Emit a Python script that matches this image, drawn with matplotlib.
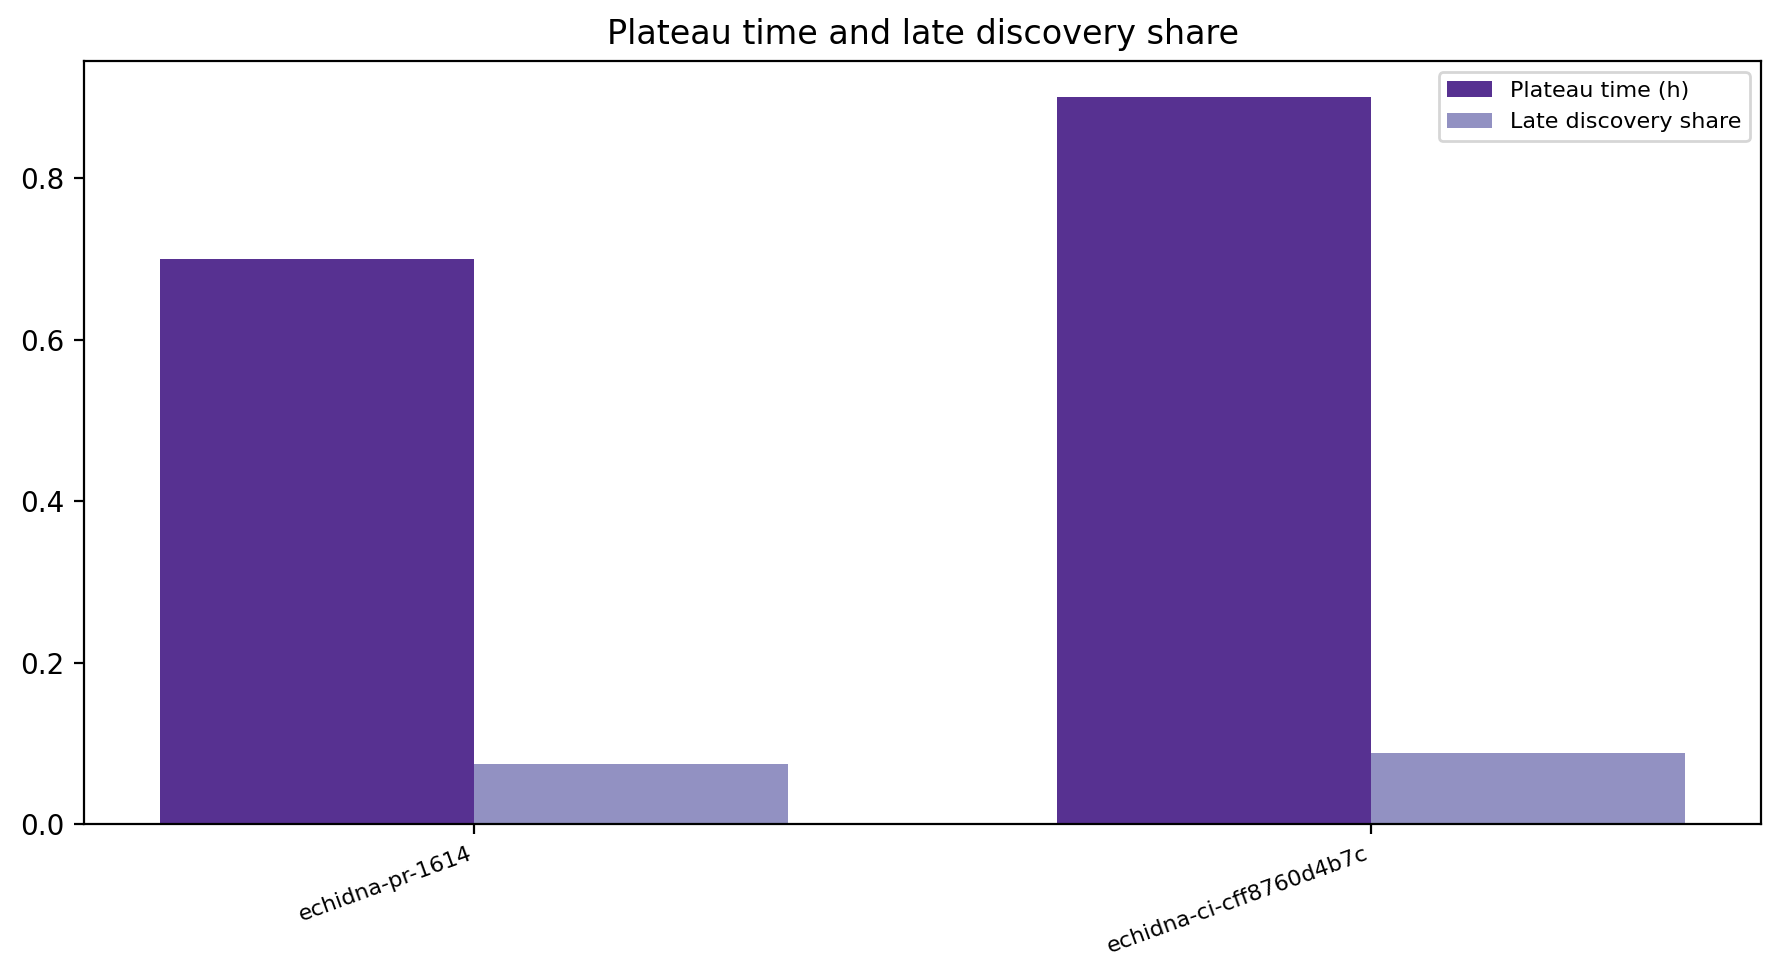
import matplotlib.pyplot as plt
import numpy as np

runs = ["echidna-pr-1614", "echidna-ci-cff8760d4b7c"]
plateau_time_h = [0.70, 0.90]
late_discovery_share = [0.074, 0.088]

fig, ax = plt.subplots(figsize=(8.905, 4.885), dpi=200)
x = np.arange(len(runs))
width = 0.35

ax.bar(x - width / 2, plateau_time_h, width, color="#573191", label="Plateau time (h)")
ax.bar(x + width / 2, late_discovery_share, width, color="#9291c2", label="Late discovery share")

ax.set_xticks(x)
ax.set_xticklabels(runs, rotation=20, ha="right", fontsize=8)
ax.set_title("Plateau time and late discovery share")
ax.legend(fontsize=8, loc="upper right")

fig.subplots_adjust(left=0.0472, right=0.9888, top=0.9376, bottom=0.1566)
fig.savefig("out.png", dpi=200)
